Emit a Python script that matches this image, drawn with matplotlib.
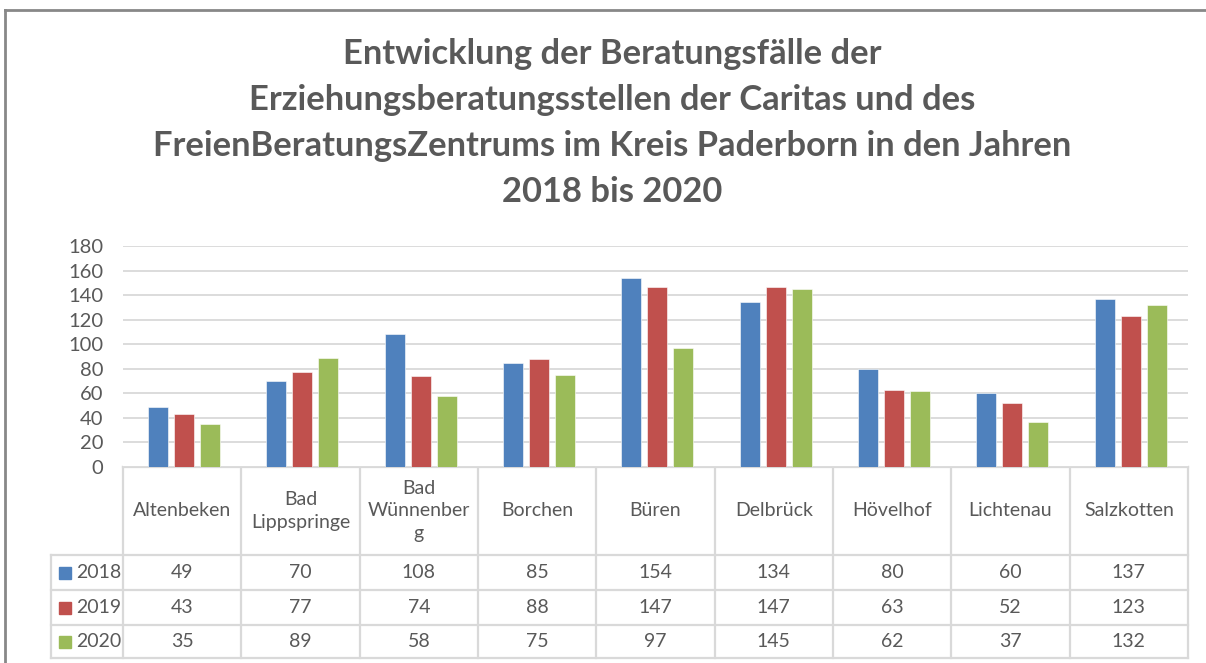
import matplotlib.pyplot as plt
import numpy as np

# Daten
orte = ["Altenbeken", "Bad\nLippspringe", "Bad\nWünnenber\ng", "Borchen", "Büren",
        "Delbrück", "Hövelhof", "Lichtenau", "Salzkotten"]
jahre = ["2018", "2019", "2020"]
werte_2018 = [49, 70, 108, 85, 154, 134, 80, 60, 137]
werte_2019 = [43, 77, 74, 88, 147, 147, 63, 52, 123]
werte_2020 = [35, 89, 58, 75, 97, 145, 62, 37, 132]
y_ticks = [0, 20, 40, 60, 80, 100, 120, 140, 160, 180]

titel = ("Entwicklung der Beratungsfälle der\n"
         "Erziehungsberatungsstellen der Caritas und des\n"
         "FreienBeratungsZentrums im Kreis Paderborn in den Jahren\n"
         "2018 bis 2020")

farben = ["#4F81BD", "#C0504D", "#9BBB59"]
grau_text = "#595959"
grau_linie = "#D9D9D9"
plt.rcParams['font.family'] = ['Lato', 'DejaVu Sans']

W, H = 1206, 663
fig = plt.figure(figsize=(W / 100, H / 100), dpi=100)

# Hilfsachse in Pixelkoordinaten fuer Rahmen und Tabelle
bg = fig.add_axes([0, 0, 1, 1])
bg.set_xlim(0, W)
bg.set_ylim(H, 0)
bg.axis("off")

# Rahmen (oben und links)
bg.plot([5, W], [10, 10], color="#888888", lw=2)
bg.plot([5, 5], [10, H], color="#888888", lw=2)

# Diagrammbereich
x0, x1 = 123, 1188
y_top, y_bot = 246, 467
ax = fig.add_axes([x0 / W, (H - y_bot) / H, (x1 - x0) / W, (y_bot - y_top) / H])
n = len(orte)
x = np.arange(n) + 0.5
breite = 0.17
abstand = 0.22
for k, (werte, farbe) in enumerate(zip([werte_2018, werte_2019, werte_2020], farben)):
    ax.bar(x + (k - 1) * abstand + 0.015, werte, width=breite, color=farbe,
           edgecolor="white", linewidth=0.4, zorder=3)
ax.set_xlim(0, n)
ax.set_ylim(0, 180)
ax.set_yticks(y_ticks)
ax.tick_params(axis="y", length=0, labelsize=14.5, labelcolor=grau_text, pad=14)
ax.set_xticks([])
ax.grid(axis="y", color=grau_linie, lw=1.3, zorder=0)
for s in ["top", "right", "left", "bottom"]:
    ax.spines[s].set_visible(False)

# Titel
fig.text(612 / W, 1 - 123 / H, titel, ha="center", va="center", fontsize=24.8,
         fontweight="bold", color=grau_text, linespacing=1.53)

# Datentabelle
spalte = (x1 - x0) / n
zeilen = [467, 555, 590, 625, 658]
lw_t = 1.6
bg.plot([x0, x1], [467, 467], color=grau_linie, lw=lw_t)
for yy in zeilen[1:]:
    bg.plot([51, x1], [yy, yy], color=grau_linie, lw=lw_t)
for i in range(n + 1):
    xx = x0 + i * spalte
    bg.plot([xx, xx], [467, 658], color=grau_linie, lw=lw_t)
bg.plot([51, 51], [555, 658], color=grau_linie, lw=lw_t)

fs_tab = 14
for i, ort in enumerate(orte):
    bg.text(x0 + (i + 0.5) * spalte, 511, ort, ha="center", va="center",
            fontsize=fs_tab, color=grau_text, linespacing=1.42)

for r, (jahr, werte, farbe) in enumerate(zip(jahre, [werte_2018, werte_2019, werte_2020], farben)):
    yc = (zeilen[r + 1] + zeilen[r + 2]) / 2
    bg.add_patch(plt.Rectangle((59, yc - 6), 12, 12, color=farbe))
    bg.text(76, yc, jahr, ha="left", va="center", fontsize=fs_tab, color=grau_text)
    for i, v in enumerate(werte):
        bg.text(x0 + (i + 0.5) * spalte, yc, str(v), ha="center", va="center",
                fontsize=fs_tab, color=grau_text)

fig.savefig("out.png", dpi=100, facecolor="white")
